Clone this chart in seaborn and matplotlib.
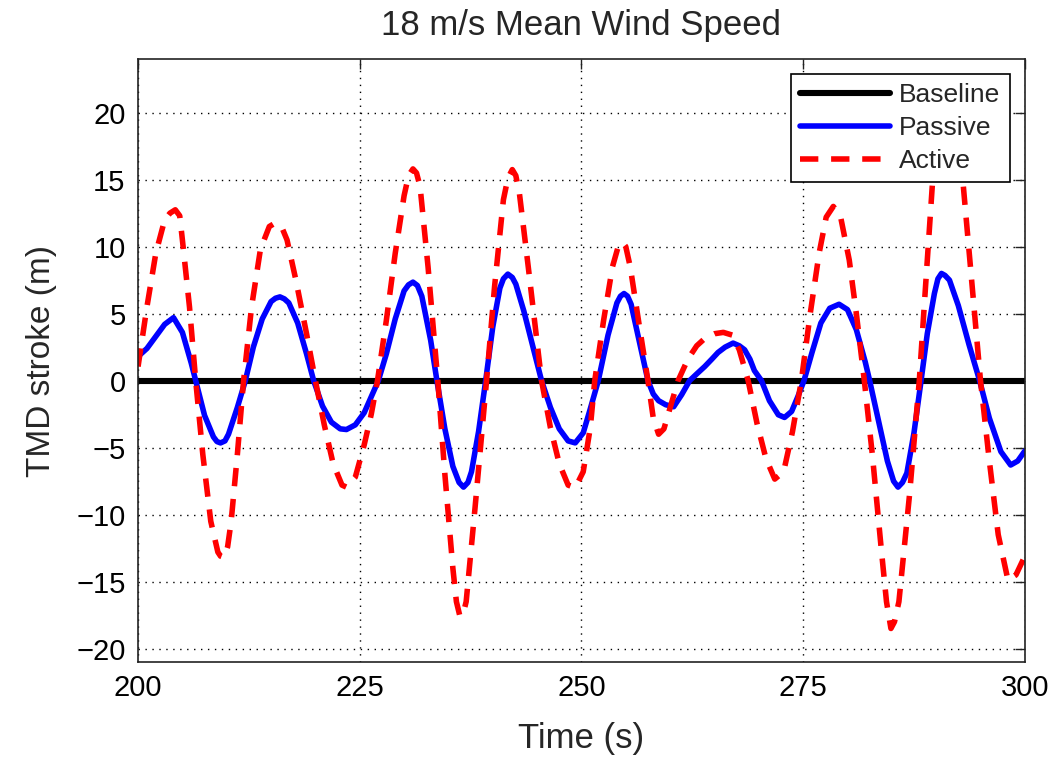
import matplotlib
matplotlib.use("Agg")
import matplotlib.pyplot as plt
import seaborn as sns

# ---- data ----
baseline_t = [200, 300]
baseline_y = [0, 0]

passive_t = [200.0, 201.0, 202.0, 203.0, 204.0, 205.0, 206.0, 206.5, 207.5, 208.5,
             208.9, 209.3, 209.8, 210.2, 211.2, 212.1, 213.0, 214.0, 215.0, 215.5,
             216.0, 216.5, 217.0, 218.0, 219.0, 219.8, 220.8, 221.8, 222.8, 223.5,
             224.5, 225.5, 226.3, 227.1, 228.0, 229.0, 230.0, 230.5, 231.0, 231.5,
             232.0, 233.0, 233.7, 234.6, 235.5, 236.2, 236.7, 237.2, 237.6, 238.4,
             239.2, 240.0, 240.8, 241.2, 241.7, 242.2, 242.6, 243.5, 244.5, 245.5,
             246.5, 247.5, 248.5, 249.3, 250.2, 251.0, 251.9, 253.0, 254.0, 254.4,
             254.8, 255.2, 255.6, 256.5, 257.5, 258.1, 258.7, 259.5, 260.4, 261.3,
             262.2, 263.0, 263.9, 264.7, 265.4, 266.2, 267.1, 267.8, 268.4, 269.0,
             269.5, 270.3, 271.2, 272.2, 272.9, 273.7, 274.4, 275.1, 276.0, 277.0,
             278.0, 279.05, 280.0, 281.0, 282.0, 282.5, 283.5, 284.5, 285.2, 285.7,
             286.2, 286.7, 287.5, 288.3, 289.0, 289.8, 290.2, 290.6, 291.0, 291.5,
             292.5, 293.7, 294.9, 296.0, 297.3, 298.4, 299.2, 300.0]
passive_y = [1.8, 2.4, 3.3, 4.2, 4.7, 3.6, 1.3, 0.0, -2.6, -4.2,
             -4.55, -4.65, -4.5, -4.0, -2.0, 0.0, 2.5, 4.6, 5.9, 6.15,
             6.25, 6.1, 5.8, 4.3, 2.0, 0.0, -1.9, -3.1, -3.6, -3.65,
             -3.3, -2.4, -1.2, 0.0, 2.0, 4.6, 6.7, 7.15, 7.35, 7.1,
             6.3, 3.0, 0.0, -3.6, -6.4, -7.6, -7.95, -7.6, -6.8, -3.8,
             0.0, 4.0, 6.9, 7.6, 7.95, 7.7, 7.2, 5.2, 2.6, 0.0,
             -2.0, -3.6, -4.5, -4.65, -3.9, -2.1, 0.0, 3.4, 5.8, 6.3,
             6.5, 6.3, 5.7, 3.0, 0.0, -1.0, -1.5, -1.8, -1.95, -1.05,
             0.0, 0.5, 1.05, 1.6, 2.1, 2.5, 2.8, 2.6, 2.3, 1.6,
             0.75, 0.0, -1.5, -2.55, -2.75, -2.3, -1.2, 0.0, 2.1, 4.3,
             5.4, 5.7, 5.3, 3.8, 1.4, 0.0, -3.0, -6.0, -7.5, -7.95,
             -7.6, -6.9, -3.9, 0.0, 3.5, 6.5, 7.6, 8.0, 7.85, 7.5,
             5.6, 2.7, 0.0, -2.8, -5.3, -6.3, -6.0, -5.25]

active_t = [200.0, 201.0, 202.0, 203.0, 203.6, 204.2, 204.7, 205.0, 205.8, 206.5,
            207.3, 208.2, 209.0, 209.3, 209.7, 210.1, 210.5, 211.2, 211.9, 212.8,
            213.8, 214.8, 215.3, 215.8, 216.3, 216.8, 217.8, 219.0, 220.0, 221.0,
            222.0, 223.0, 223.5, 224.5, 225.5, 226.3, 227.0, 228.0, 229.0, 230.0,
            230.5, 231.0, 231.4, 231.8, 232.7, 233.8, 234.6, 235.5, 235.9, 236.3,
            236.7, 237.0, 238.0, 239.3, 240.2, 241.2, 241.7, 242.2, 242.6, 243.0,
            244.0, 245.5, 246.5, 247.5, 248.5, 249.3, 250.2, 251.0, 251.5, 252.5,
            253.5, 254.1, 254.6, 255.0, 255.5, 256.5, 257.5, 258.1, 258.7, 259.3,
            260.1, 260.9, 262.0, 263.0, 264.0, 265.0, 266.0, 267.0, 267.8, 268.8,
            269.8, 270.8, 271.8, 272.8, 273.8, 274.8, 275.8, 276.8, 277.6, 278.4,
            279.2, 280.2, 281.0, 281.9, 282.8, 283.8, 284.4, 284.9, 285.3, 285.8,
            287.0, 288.1, 288.8, 289.6, 290.4, 291.3, 292.2, 293.0, 294.0, 295.0,
            296.0, 297.0, 298.1, 299.0, 300.0]
active_y = [1.05, 5.5, 9.5, 12.0, 12.5, 12.75, 12.3, 10.5, 5.5, 0.0,
            -5.5, -10.5, -12.8, -13.1, -13.2, -12.4, -10.5, -5.5, 0.0, 5.5,
            9.8, 11.5, 11.7, 11.7, 11.3, 10.5, 7.5, 3.5, 0.0, -3.3,
            -6.2, -7.8, -7.95, -7.2, -4.8, -2.5, 0.0, 4.5, 9.5, 13.8,
            15.3, 15.8, 15.5, 14.5, 8.5, 0.0, -7.0, -14.0, -16.5, -17.6,
            -17.3, -16.5, -9.5, 0.0, 7.0, 13.5, 15.1, 15.75, 15.3, 14.0,
            8.5, 0.0, -3.5, -6.2, -7.8, -8.0, -6.8, -3.5, 0.0, 4.5,
            8.5, 9.9, 10.35, 10.0, 8.5, 4.2, 0.0, -2.8, -4.0, -3.6,
            -1.8, 0.0, 1.6, 2.6, 3.2, 3.5, 3.6, 3.4, 2.3, 0.0,
            -3.2, -5.8, -7.35, -6.8, -3.8, 0.0, 5.0, 9.5, 12.2, 13.0,
            12.3, 9.0, 5.0, 0.0, -5.5, -12.5, -16.5, -18.5, -18.0, -16.5,
            -8.5, 0.0, 7.0, 14.9, 17.5, 18.2, 17.5, 15.0, 7.5, 0.0,
            -6.0, -11.5, -14.9, -14.5, -13.1]

x_ticks = [200, 225, 250, 275, 300]
y_ticks = [-20, -15, -10, -5, 0, 5, 10, 15, 20]

# ---- style ----
sns.set_style("white")
plt.rcParams['font.family'] = ['Liberation Sans', 'DejaVu Sans']

fig = plt.figure(figsize=(10.62, 7.71), dpi=100)
ax = fig.add_axes([0.130, 0.1414, 0.835, 0.782])

sns.lineplot(x=baseline_t, y=baseline_y, ax=ax, color='black', linewidth=4.4,
             label='Baseline', estimator=None, sort=False)
sns.lineplot(x=passive_t, y=passive_y, ax=ax, color='#0000ff', linewidth=4.0,
             label='Passive', estimator=None, sort=False)
sns.lineplot(x=active_t, y=active_y, ax=ax, color='#ff0000', linewidth=4.0,
             label='Active', estimator=None, sort=False)
ax.lines[2].set_dashes([3.3, 2.3])
for ln in ax.lines:
    ln.set_solid_joinstyle('round')
    ln.set_dash_joinstyle('round')

ax.set_xlim(200, 300)
ax.set_ylim(-21, 24)
ax.set_xticks(x_ticks)
ax.set_yticks(y_ticks)
ax.set_yticklabels([str(v).replace('-', '\u2212') for v in y_ticks])

ax.grid(True, color='black', linestyle=(0, (1, 4)), linewidth=1.0)
ax.set_axisbelow(True)
for s in ax.spines.values():
    s.set_visible(True)
    s.set_color('#222222')
    s.set_linewidth(1.2)

ax.tick_params(direction='in', length=7, width=1.0, top=True, right=True,
               labelsize=21, colors='#222222', pad=9)
for lbl in ax.get_xticklabels() + ax.get_yticklabels():
    lbl.set_color('black')

ax.set_title('18 m/s Mean Wind Speed', fontsize=25, pad=17)
ax.set_xlabel('Time (s)', fontsize=25, labelpad=14)
ax.set_ylabel('TMD stroke (m)', fontsize=24, labelpad=14)

leg = ax.legend(loc='upper right', bbox_to_anchor=(0.983, 0.975), fontsize=19,
                frameon=True, fancybox=False, framealpha=1.0, edgecolor='black',
                handlelength=3.4, handletextpad=0.35, borderpad=0.35,
                labelspacing=0.33, borderaxespad=0.0)
leg.get_frame().set_linewidth(1.2)
leg.set_zorder(10)

fig.savefig('out.png', dpi=100)
